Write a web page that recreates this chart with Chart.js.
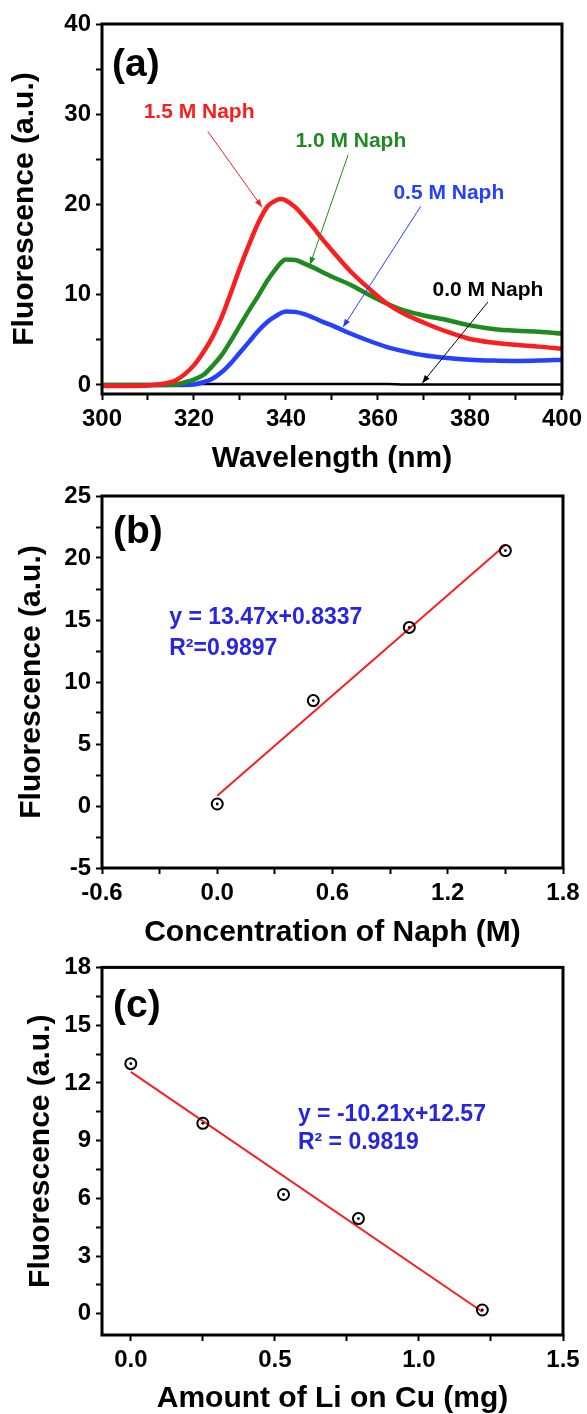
<!DOCTYPE html>
<html>
<head>
<meta charset="utf-8">
<script src="https://cdn.jsdelivr.net/npm/chart.js@4.4.0/dist/chart.umd.min.js"></script>
<style>
  html, body { margin: 0; padding: 0; background: #fff; }
  body { width: 587px; height: 1414px; position: relative; overflow: hidden; }
  canvas { position: absolute; left: 0; }
</style>
</head>
<body>
<canvas id="chartA" width="587" height="474" style="top:0"></canvas>
<canvas id="chartB" width="587" height="474" style="top:474px"></canvas>
<canvas id="chartC" width="587" height="466" style="top:948px"></canvas>
<script>
// ---- (a) fluorescence spectra ----
const wavelength = [300, 305, 310, 314, 316, 318, 320, 322, 324, 326, 328, 330, 332, 334, 336, 338, 339,
  340, 342, 344, 346, 348, 350, 354, 358, 362, 366, 370, 375, 380, 385, 390, 395, 400];
const naph15 = [-0.1, -0.1, -0.05, 0.2, 0.5, 1.2, 2.2, 3.6, 5.3, 7.5, 10.2, 13.0, 15.6, 18.0, 19.8, 20.5, 20.6,
  20.45, 19.7, 18.6, 17.4, 16.1, 14.9, 12.6, 10.7, 9.0, 7.8, 6.9, 5.9, 5.1, 4.7, 4.45, 4.25, 4.0];
const naph10 = [0, 0, 0, 0, 0.05, 0.3, 0.6, 1.1, 2.1, 3.3, 4.9, 6.6, 8.3, 9.9, 11.6, 13.0, 13.6,
  13.9, 13.85, 13.45, 13.0, 12.5, 12.0, 11.1, 10.0, 9.0, 8.2, 7.7, 7.2, 6.6, 6.2, 6.0, 5.9, 5.7];
const naph05 = [0, 0, 0, 0, 0, 0, 0.05, 0.3, 0.7, 1.4, 2.4, 3.6, 4.8, 6.0, 7.0, 7.7, 8.0,
  8.15, 8.1, 7.85, 7.45, 7.0, 6.6, 5.7, 4.9, 4.2, 3.7, 3.3, 3.0, 2.8, 2.7, 2.65, 2.7, 2.8];
const naph00 = [0.05, 0.05, 0.05, 0.05, 0.05, 0.05, 0.1, 0.1, 0.1, 0.1, 0.1, 0.1, 0.1, 0.1, 0.1, 0.1, 0.1,
  0.1, 0.1, 0.1, 0.1, 0.1, 0.1, 0.1, 0.1, 0.1, 0.05, 0.05, 0.05, 0.05, 0.05, 0.05, 0.05, 0.05];
const seriesNames = ['1.5 M Naph', '1.0 M Naph', '0.5 M Naph', '0.0 M Naph'];
const ticksAx = [300, 320, 340, 360, 380, 400];
const ticksAy = [0, 10, 20, 30, 40];

// ---- (b) calibration vs Naph concentration ----
const concNaph = [0, 0.5, 1.0, 1.5];
const fluorB = [0.16, 8.5, 14.4, 20.6];
const fitBx = [0, 1.5];
const fitBy = [0.83, 21.04];
const eqB = ['y = 13.47x+0.8337', 'R\u00b2=0.9897'];
const ticksBx = [-0.6, 0, 0.6, 1.2, 1.8];
const ticksBy = [-5, 0, 5, 10, 15, 20, 25];

// ---- (c) fluorescence vs Li on Cu ----
const liOnCu = [0, 0.25, 0.53, 0.79, 1.22];
const fluorC = [13.0, 9.9, 6.2, 4.95, 0.2];
const fitCx = [0, 1.22];
const fitCy = [12.57, 0.11];
const eqC = ['y = -10.21x+12.57', 'R\u00b2 = 0.9819'];
const ticksCx = [0, 0.5, 1.0, 1.5];
const ticksCy = [0, 3, 6, 9, 12, 15, 18];

const FONT = "'Liberation Sans', Arial, sans-serif";
const RED = '#fa1e1e', GREEN = '#1f8a1f', BLUE = '#2540ff', EQ_BLUE = '#2626e0';

const pts = (xs, ys) => xs.map((x, i) => ({ x, y: ys[i] }));

// major ticks plus one minor tick halfway between each pair
function withMinors(major) {
  const out = [];
  major.forEach((m, i) => {
    out.push(m);
    if (i < major.length - 1) out.push((m + major[i + 1]) / 2);
  });
  return out;
}

function scaleOpts(min, max, major, digits, title, fit, titlePad) {
  return {
    type: 'linear', min, max,
    afterBuildTicks: s => { s.ticks = withMinors(major).map(v => ({ value: v })); },
    afterFit: fit,
    grid: { drawOnChartArea: false, drawTicks: true, tickLength: 6, tickWidth: 2, tickColor: '#000' },
    border: { display: false },
    ticks: {
      autoSkip: false, maxRotation: 0, minRotation: 0, padding: 5, color: '#000',
      font: { family: FONT, size: 24, weight: 'bold', lineHeight: 1.2 },
      callback: v => major.some(m => Math.abs(m - v) < 1e-9) ? v.toFixed(digits) : ''
    },
    title: {
      display: true, text: title, color: '#000', padding: titlePad,
      font: { family: FONT, size: 30, weight: 'bold', lineHeight: 1 }
    }
  };
}

const framePlugin = {
  id: 'frame',
  afterDraw(chart) {
    const { ctx, chartArea: a } = chart;
    ctx.save();
    ctx.strokeStyle = '#000';
    ctx.lineWidth = 3;
    ctx.strokeRect(a.left, a.top, a.right - a.left, a.bottom - a.top);
    ctx.restore();
  }
};

// text and arrows placed in data units via the chart scales
const notesPlugin = {
  id: 'notes',
  afterDatasetsDraw(chart, args, opts) {
    const { ctx } = chart;
    const sx = chart.scales.x, sy = chart.scales.y;
    ctx.save();
    (opts.arrows || []).forEach(a => {
      const x1 = sx.getPixelForValue(a.from[0]), y1 = sy.getPixelForValue(a.from[1]);
      const x2 = sx.getPixelForValue(a.to[0]), y2 = sy.getPixelForValue(a.to[1]);
      const ang = Math.atan2(y2 - y1, x2 - x1);
      ctx.strokeStyle = a.color;
      ctx.fillStyle = a.color;
      ctx.lineWidth = 1;
      ctx.beginPath();
      ctx.moveTo(x1, y1);
      ctx.lineTo(x2, y2);
      ctx.stroke();
      ctx.beginPath();
      ctx.moveTo(x2, y2);
      ctx.lineTo(x2 - 8 * Math.cos(ang) + 3 * Math.sin(ang), y2 - 8 * Math.sin(ang) - 3 * Math.cos(ang));
      ctx.lineTo(x2 - 8 * Math.cos(ang) - 3 * Math.sin(ang), y2 - 8 * Math.sin(ang) + 3 * Math.cos(ang));
      ctx.closePath();
      ctx.fill();
    });
    (opts.texts || []).forEach(t => {
      ctx.font = 'bold ' + t.size + 'px ' + FONT;
      ctx.fillStyle = t.color;
      ctx.textAlign = t.align || 'left';
      ctx.textBaseline = 'middle';
      ctx.fillText(t.text, sx.getPixelForValue(t.x), sy.getPixelForValue(t.y));
    });
    ctx.restore();
  }
};

function baseOptions(padTop, xScale, yScale, notes) {
  return {
    responsive: false,
    animation: false,
    layout: { padding: { top: padTop, right: 24, left: 0, bottom: 0 } },
    plugins: { legend: { display: false }, tooltip: { enabled: false }, notes },
    scales: { x: xScale, y: yScale }
  };
}

// (a)
new Chart(document.getElementById('chartA'), {
  type: 'scatter',
  data: {
    datasets: [
      { label: seriesNames[0], data: pts(wavelength, naph15), borderColor: RED, borderWidth: 4.5 },
      { label: seriesNames[1], data: pts(wavelength, naph10), borderColor: GREEN, borderWidth: 4.5 },
      { label: seriesNames[2], data: pts(wavelength, naph05), borderColor: BLUE, borderWidth: 4.5 },
      { label: seriesNames[3], data: pts(wavelength, naph00), borderColor: '#000', borderWidth: 2.5 }
    ].map(d => Object.assign(d, { showLine: true, pointRadius: 0, cubicInterpolationMode: 'monotone' }))
  },
  options: baseOptions(24,
    scaleOpts(300, 400, ticksAx, 0, 'Wavelength (nm)', s => { s.height = 80; }, { top: 0, bottom: 0 }),
    scaleOpts(-1, 40, ticksAy, 0, 'Fluorescence (a.u.)', s => { s.width = 102; }, { top: 10, bottom: 0 }),
    {
      texts: [
        { text: '(a)', x: 302.2, y: 35.4, size: 39, color: '#000' },
        { text: seriesNames[0], x: 321.1, y: 30.2, size: 21, color: RED, align: 'center' },
        { text: seriesNames[1], x: 354.1, y: 27.0, size: 21, color: GREEN, align: 'center' },
        { text: seriesNames[2], x: 375.4, y: 21.2, size: 21, color: BLUE, align: 'center' },
        { text: seriesNames[3], x: 383.9, y: 10.5, size: 21, color: '#000', align: 'center' }
      ],
      arrows: [
        { from: [323.0, 28.1], to: [334.8, 19.7], color: RED },
        { from: [353.5, 25.5], to: [345.2, 13.3], color: GREEN },
        { from: [369.3, 19.8], to: [352.4, 6.4], color: BLUE },
        { from: [383.9, 9.2], to: [369.6, 0.2], color: '#000' }
      ]
    }),
  plugins: [framePlugin, notesPlugin]
});

function calibrationChart(id, padTop, xs, ys, fx, fy, xScale, yScale, notes) {
  return new Chart(document.getElementById(id), {
    type: 'scatter',
    data: {
      datasets: [
        { data: pts(xs, ys), pointRadius: 1.4, pointBackgroundColor: '#000', pointBorderWidth: 0 },
        { data: pts(xs, ys), pointRadius: 5.5, pointBorderWidth: 2, pointBorderColor: '#000',
          pointBackgroundColor: 'rgba(0,0,0,0)' },
        { data: pts(fx, fy), showLine: true, pointRadius: 0, borderColor: RED, borderWidth: 2 }
      ]
    },
    options: baseOptions(padTop, xScale, yScale, notes),
    plugins: [framePlugin, notesPlugin]
  });
}

// (b)
calibrationChart('chartB', 22, concNaph, fluorB, fitBx, fitBy,
  scaleOpts(-0.6, 1.8, ticksBx, 1, 'Concentration of Naph (M)', s => { s.height = 80; }, { top: 0, bottom: 0 }),
  scaleOpts(-5, 25, ticksBy, 0, 'Fluorescence (a.u.)', s => { s.width = 102; }, { top: 17, bottom: 0 }),
  {
    texts: [
      { text: '(b)', x: -0.543, y: 22.1, size: 39, color: '#000' },
      { text: eqB[0], x: -0.25, y: 15.2, size: 23, color: EQ_BLUE },
      { text: eqB[1], x: -0.25, y: 12.66, size: 23, color: EQ_BLUE }
    ]
  });

// (c)
calibrationChart('chartC', 16, liOnCu, fluorC, fitCx, fitCy,
  scaleOpts(-0.1, 1.5, ticksCx, 1, 'Amount of Li on Cu (mg)', s => { s.height = 79; }, { top: 0, bottom: 0 }),
  scaleOpts(-1.1, 18, ticksCy, 0, 'Fluorescence (a.u.)', s => { s.width = 102; }, { top: 26, bottom: 0 }),
  {
    texts: [
      { text: '(c)', x: -0.062, y: 16.0, size: 39, color: '#000' },
      { text: eqC[0], x: 0.58, y: 10.33, size: 23, color: EQ_BLUE },
      { text: eqC[1], x: 0.58, y: 8.89, size: 23, color: EQ_BLUE }
    ]
  });
</script>
</body>
</html>
